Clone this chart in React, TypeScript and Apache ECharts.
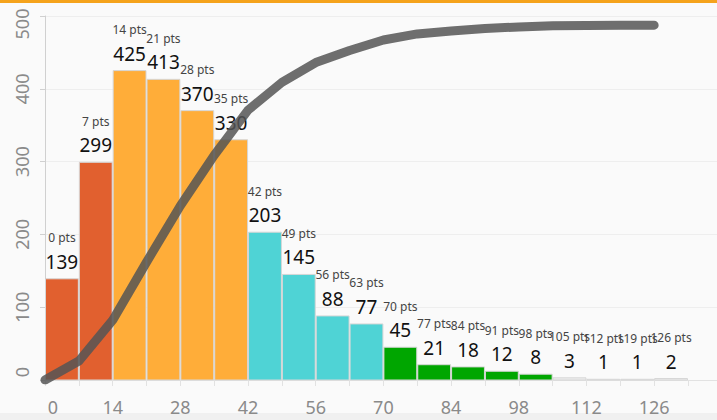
import React, { useEffect, useRef } from "react";
import * as echarts from "echarts";

const binStarts = [0, 7, 14, 21, 28, 35, 42, 49, 56, 63, 70, 77, 84, 91, 98, 105, 112, 119, 126];
const counts = [139, 299, 425, 413, 370, 330, 203, 145, 88, 77, 45, 21, 18, 12, 8, 3, 1, 1, 2];
const groups = ["low", "low", "mid", "mid", "mid", "mid", "upper", "upper", "upper", "upper", "high", "high", "high", "high", "high", "tail", "tail", "tail", "tail"];
const groupColors: Record<string, string> = {
  low: "#e1602f",
  mid: "#ffad39",
  upper: "#4fd3d5",
  high: "#00a600",
  tail: "#eeeeee",
};
const xTicks = [0, 14, 28, 42, 56, 70, 84, 98, 112, 126];
const yTicks = [0, 100, 200, 300, 400, 500];
const binWidth = 7;

const FONT = "'Noto Sans', 'Open Sans', sans-serif";

export default function App() {
  const ref = useRef<HTMLDivElement>(null);
  useEffect(() => {
    if (!ref.current) return;
    const chart = echarts.init(ref.current, undefined, { renderer: "svg" });
    const total = counts.reduce((a, b) => a + b, 0);
    let running = 0;
    const cumData: number[][] = binStarts.map((x, i) => {
      const pct = (running / total) * 100;
      running += counts[i];
      return [x, pct];
    });
    const barData = binStarts.map((x, i) => [x, counts[i]]);
    const labelStyle = { color: "#8a8a8a", fontSize: 18, fontFamily: FONT };

    chart.setOption({
      animation: false,
      backgroundColor: "#fafafa",
      grid: { left: 45, right: 0, top: 16, bottom: 40 },
      graphic: [
        {
          type: "rect",
          left: 0,
          top: 0,
          shape: { width: 717, height: 3 },
          style: { fill: "#f5a31c" },
          z: 100,
        },
        {
          type: "rect",
          left: 0,
          top: 413,
          shape: { width: 717, height: 7 },
          style: { fill: "#f0f0f0" },
          z: -1,
        },
      ],
      xAxis: {
        type: "value",
        min: 0,
        max: 139,
        interval: 14,
        axisLine: { show: true, lineStyle: { color: "#e2e2e2" } },
        axisTick: { show: true, length: 6, lineStyle: { color: "#e2e2e2" } },
        minorTick: { show: true, splitNumber: 2, length: 6, lineStyle: { color: "#e2e2e2" } },
        splitLine: { show: false },
        axisLabel: {
          ...labelStyle,
          margin: 18,
          showMaxLabel: false,
          formatter: (v: number) =>
            v === 0 ? "{first|0}" : xTicks.includes(v) ? String(v) : "",
          rich: {
            first: { ...labelStyle, padding: [0, 0, 0, 16] },
          },
        },
      },
      yAxis: [
        {
          type: "value",
          min: 0,
          max: 500,
          interval: 100,
          axisLine: { show: true, lineStyle: { color: "#d0d0d0" } },
          axisTick: { show: true, length: 5, lineStyle: { color: "#d0d0d0" } },
          splitLine: { show: true, lineStyle: { color: "#eeeeee" } },
          axisLabel: {
            ...labelStyle,
            rotate: 90,
            margin: 14,
            formatter: (v: number) =>
              v === 0
                ? "{lo|0}"
                : v === 500
                ? "{hi|500}"
                : yTicks.includes(v)
                ? String(v)
                : "",
            rich: {
              lo: { ...labelStyle, padding: [0, 0, 0, 16] },
              hi: { ...labelStyle, padding: [0, 16, 0, 0] },
            },
          },
        },
        {
          type: "value",
          min: 0,
          max: 102.5,
          show: false,
          splitLine: { show: false },
        },
      ],
      series: [
        {
          type: "custom",
          data: barData,
          z: 2,
          renderItem: (params: any, api: any) => {
            const x = api.value(0);
            const v = api.value(1);
            const i = params.dataIndex;
            const pTop = api.coord([x, v]);
            const pBot = api.coord([x + binWidth, 0]);
            const cx = (pTop[0] + pBot[0]) / 2;
            const color = groupColors[groups[i]];
            return {
              type: "group",
              children: [
                {
                  type: "rect",
                  shape: {
                    x: pTop[0] + 0.5,
                    y: pTop[1],
                    width: pBot[0] - pTop[0] - 1,
                    height: pBot[1] - pTop[1],
                  },
                  style: { fill: color, stroke: "#d6d6d6", lineWidth: 1 },
                },
                {
                  type: "text",
                  style: {
                    text: `${x} pts`,
                    x: cx,
                    y: pTop[1] - 41,
                    align: "center",
                    verticalAlign: "middle",
                    fontSize: 12,
                    fontFamily: FONT,
                    fill: "#444444",
                  },
                  z2: 20,
                },
                {
                  type: "text",
                  style: {
                    text: String(v),
                    x: cx,
                    y: pTop[1] - 17,
                    align: "center",
                    verticalAlign: "middle",
                    fontSize: 19,
                    fontFamily: FONT,
                    fill: "#111111",
                  },
                  z2: 20,
                },
              ],
            };
          },
        },
        {
          type: "line",
          yAxisIndex: 1,
          data: cumData,
          symbol: "none",
          z: 5,
          lineStyle: { color: "#555555", width: 9, opacity: 0.85, cap: "round", join: "round" },
        },
      ],
    });
    return () => chart.dispose();
  }, []);
  return (
    <div
      ref={ref}
      style={{ position: "fixed", left: 0, top: 0, width: 717, height: 420 }}
    />
  );
}
